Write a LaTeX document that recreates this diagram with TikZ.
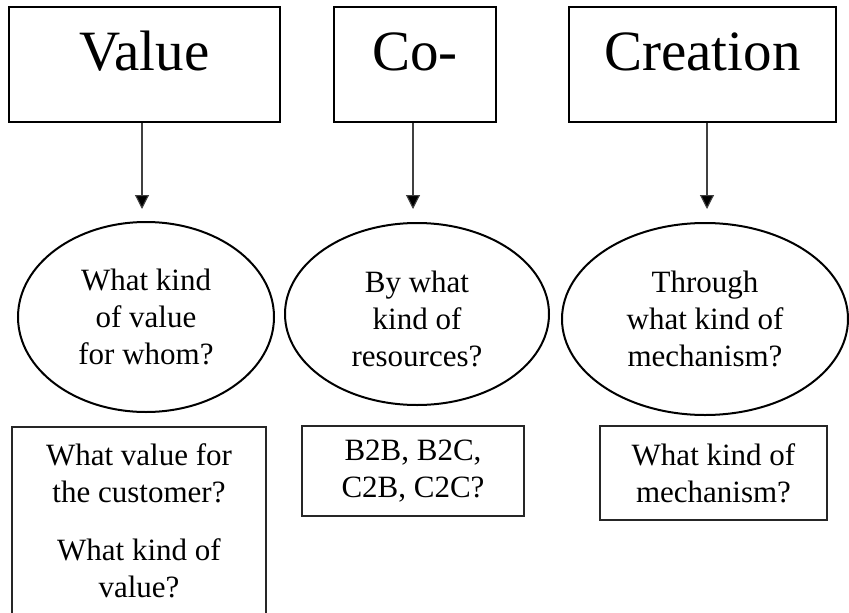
\documentclass[tikz,border=0pt]{standalone}
\usepackage{fontspec}
\setmainfont{Liberation Serif}
\usetikzlibrary{shapes.geometric,arrows.meta}
\begin{document}
\begin{tikzpicture}[x=1pt,y=-1pt,
  headbox/.style={draw=black,line width=2.2pt,inner sep=0pt,anchor=base,
    text height=63pt,text depth=52pt,font=\fontsize{57}{60}\selectfont},
  question/.style={draw=black,ellipse,line width=2pt,inner sep=0pt,align=center,
    font=\fontsize{31}{37}\selectfont},
  answerbox/.style={draw=black!85,rectangle,line width=1.3pt,inner sep=0pt,align=center,
    font=\fontsize{31}{37}\selectfont},
  answertext/.style={inner sep=0pt,align=center,font=\fontsize{31}{37}\selectfont},
  flow/.style={draw=black!75,line width=1.1pt,-{Triangle[length=14pt,width=14pt,fill=black]}}]
\useasboundingbox (0,0) rectangle (849,613);
\clip (0,0) rectangle (849,613);

% heading boxes
\node[headbox,minimum width=271pt] (value) at (144.5,70) {Value};
\node[headbox,minimum width=162pt] (co) at (415,70) {Co-};
\node[headbox,minimum width=267pt] (creation) at (702.5,70) {Creation};

% question ellipses
\node[question,minimum width=256pt,minimum height=190pt] (q1) at (146,317)
  {What kind\\of value\\for whom?};
\node[question,minimum width=264pt,minimum height=182pt] (q2) at (417,314)
  {\rule{0pt}{31pt}By what\\kind of\\resources?};
\node[question,minimum width=286pt,minimum height=192pt] (q3) at (705,319)
  {Through\\what kind of\\mechanism?};

% arrow tips above the ellipses
\coordinate (t1) at (142,209);
\coordinate (t2) at (413,209);
\coordinate (t3) at (707,209);
\draw[flow] (value.south -| t1) -- (t1);
\draw[flow] (co.south -| t2) -- (t2);
\draw[flow] (creation.south -| t3) -- (t3);

% answer boxes
\node[answerbox,minimum width=254pt,minimum height=220pt] (a1) at (139,537) {};
\node[answertext] (a1text) at (139,521)
  {What value for\\the customer?\\[21pt]What kind of\\value?};
\node[answerbox,minimum width=222pt,minimum height=90pt] (a2) at (413,471)
  {B2B, B2C,\\C2B, C2C?};
\node[answerbox,minimum width=227pt,minimum height=94pt] (a3) at (713.5,473)
  {What kind of\\mechanism?};
\end{tikzpicture}
\end{document}
